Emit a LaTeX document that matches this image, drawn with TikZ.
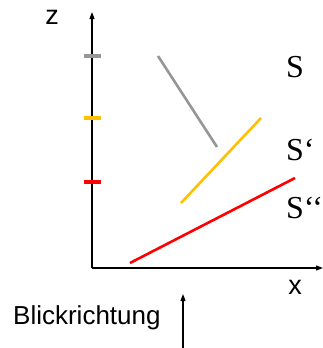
\documentclass[tikz,border=0pt]{standalone}
\usepackage{fontspec}
\setmainfont{Liberation Serif}
\newfontfamily\arialfont{Liberation Sans}
\usetikzlibrary{arrows.meta,positioning}
\definecolor{tickgray}{RGB}{150,150,150}
\definecolor{tickyellow}{RGB}{255,192,0}
\definecolor{tickred}{RGB}{255,0,0}

\begin{document}
\begin{tikzpicture}[
  x=1pt, y=-1pt,
  axis/.style={-{Triangle[length=7pt,width=5pt]}, line width=1.2pt},
  seg/.style={line width=2.6pt},
  tick/.style={line width=3.6pt},
  slbl/.style={font=\fontsize{32}{36}\selectfont, inner sep=0pt},
  albl/.style={font=\arialfont\fontsize{27}{30}\selectfont, inner sep=0pt},
  blbl/.style={font=\arialfont\fontsize{26}{30}\selectfont, inner sep=0pt}
]
\useasboundingbox (0,0) rectangle (323,348);

%% ===== axes =====
\coordinate (o) at (92,268);
\coordinate (ztop) at (92,12);
\coordinate (xend) at (323,268);
\draw[axis] (o) -- (ztop);
\draw[axis] (o) -- (xend);
\node[albl] (zl) at (52,17) {z};
\node[albl] (xl) at (295,287) {x};

%% ===== ticks on z =====
\coordinate (tg1) at (84,56);  \coordinate (tg2) at (101,56);
\coordinate (ty1) at (84,118); \coordinate (ty2) at (101,118);
\coordinate (tr1) at (84,182); \coordinate (tr2) at (101,182);
\draw[tick, tickgray] (tg1) -- (tg2);
\draw[tick, tickyellow] (ty1) -- (ty2);
\draw[tick, tickred] (tr1) -- (tr2);

%% ===== segments =====
\coordinate (sa) at (158,56);  \coordinate (sb) at (217,147);
\coordinate (ya) at (181,203); \coordinate (yb) at (261,118);
\coordinate (ra) at (130,263); \coordinate (rb) at (295,178);
\draw[seg, tickgray] (sa) -- (sb);
\draw[seg, tickyellow] (ya) -- (yb);
\draw[seg, tickred] (ra) -- (rb);

\node[slbl, anchor=west] (s0) at (286,67) {S};
\node[slbl, anchor=west] (s1) at (286,150) {S‘};
\node[slbl, anchor=west] (s2) at (286,208) {S‘‘};

%% ===== viewing direction =====
\node[blbl, anchor=west] (blick) at (13,318) {Blickrichtung};
\coordinate (bbot) at (183,348);
\coordinate (btop) at (183,294);
\draw[axis] (bbot) -- (btop);

\end{tikzpicture}
\end{document}
